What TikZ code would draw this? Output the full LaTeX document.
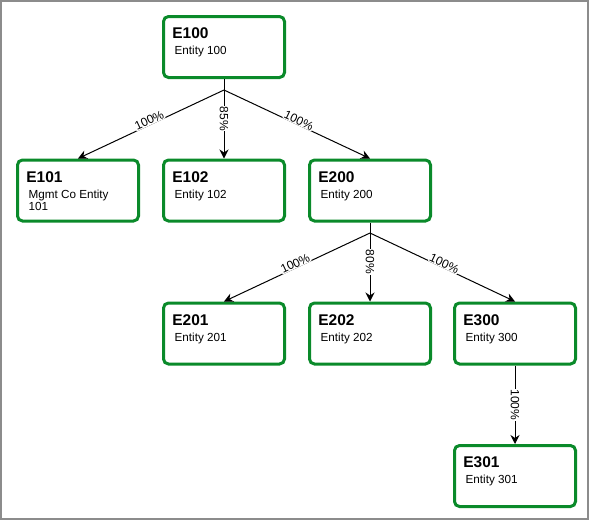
\documentclass[tikz,border=0pt]{standalone}
\usepackage{fontspec}
\setmainfont{Liberation Sans}
\usetikzlibrary{arrows.meta,calc}
\definecolor{boxgreen}{HTML}{0A8A2A}
\definecolor{frame}{HTML}{8C8C8C}
\begin{document}
\begin{tikzpicture}[x=1pt,y=-1pt,
 box/.style={draw=boxgreen, line width=3pt, rounded corners=5pt, fill=white, minimum width=121pt, minimum height=61pt, inner sep=0pt},
 ttl/.style={anchor=base west, inner sep=0pt, font=\fontsize{15.5}{18}\selectfont\bfseries},
 sub/.style={anchor=base west, inner sep=0pt, font=\fontsize{11.7}{13}\selectfont},
 conn/.style={draw=black, line width=1pt},
 arr/.style={conn, -{Stealth[length=9pt,width=9pt,inset=3pt]}},
 lbl/.style={fill=white, inner sep=0.5pt, font=\fontsize{12}{14}\selectfont}]
\useasboundingbox (0,0) rectangle (589,520);
\draw[frame, line width=2pt] (1,1) rectangle (588,519);

% boxes
\node[box] (e100) at (224,47) {};
\node[box] (e101) at (78,190.5) {};
\node[box] (e102) at (224,190.5) {};
\node[box] (e200) at (370,190.5) {};
\node[box] (e201) at (224,333.5) {};
\node[box] (e202) at (370,333.5) {};
\node[box] (e300) at (515,333.5) {};
\node[box] (e301) at (515,476) {};

% texts
\node[ttl] (t100) at ($(e100.north west)+(10.2,23.5)$) {E100};
\node[sub] (s100) at ($(e100.north west)+(12.4,39.5)$) {Entity 100};
\node[ttl] (t101) at ($(e101.north west)+(10.2,23.5)$) {E101};
\node[sub] (s101) at ($(e101.north west)+(12.4,39.5)$) {Mgmt Co Entity};
\node[sub] (s101b) at ($(e101.north west)+(12.4,52)$) {101};
\node[ttl] (t102) at ($(e102.north west)+(10.2,23.5)$) {E102};
\node[sub] (s102) at ($(e102.north west)+(12.4,39.5)$) {Entity 102};
\node[ttl] (t200) at ($(e200.north west)+(10.2,23.5)$) {E200};
\node[sub] (s200) at ($(e200.north west)+(12.4,39.5)$) {Entity 200};
\node[ttl] (t201) at ($(e201.north west)+(10.2,23.5)$) {E201};
\node[sub] (s201) at ($(e201.north west)+(12.4,39.5)$) {Entity 201};
\node[ttl] (t202) at ($(e202.north west)+(10.2,23.5)$) {E202};
\node[sub] (s202) at ($(e202.north west)+(12.4,39.5)$) {Entity 202};
\node[ttl] (t300) at ($(e300.north west)+(10.2,23.5)$) {E300};
\node[sub] (s300) at ($(e300.north west)+(12.4,39.5)$) {Entity 300};
\node[ttl] (t301) at ($(e301.north west)+(10.2,23.5)$) {E301};
\node[sub] (s301) at ($(e301.north west)+(12.4,39.5)$) {Entity 301};

% connectors
\coordinate (b1) at (224,90);
\coordinate (b2) at (370,233);
\draw[arr] (e100.south) -- (e102.north) node[lbl, midway, rotate=-90] {85\%};
\draw[arr] (b1) -- (e101.north) node[lbl, midway, sloped, above=-1pt] {100\%};
\draw[arr] (b1) -- (e200.north) node[lbl, midway, sloped, above=-1pt] {100\%};

\draw[arr] (e200.south) -- (e202.north) node[lbl, midway, rotate=-90] {80\%};
\draw[arr] (b2) -- (e201.north) node[lbl, midway, sloped, above=-1pt] {100\%};
\draw[arr] (b2) -- (e300.north) node[lbl, midway, sloped, above=-1pt] {100\%};

\draw[arr] (e300.south) -- (e301.north) node[lbl, midway, rotate=-90] {100\%};
\end{tikzpicture}
\end{document}
